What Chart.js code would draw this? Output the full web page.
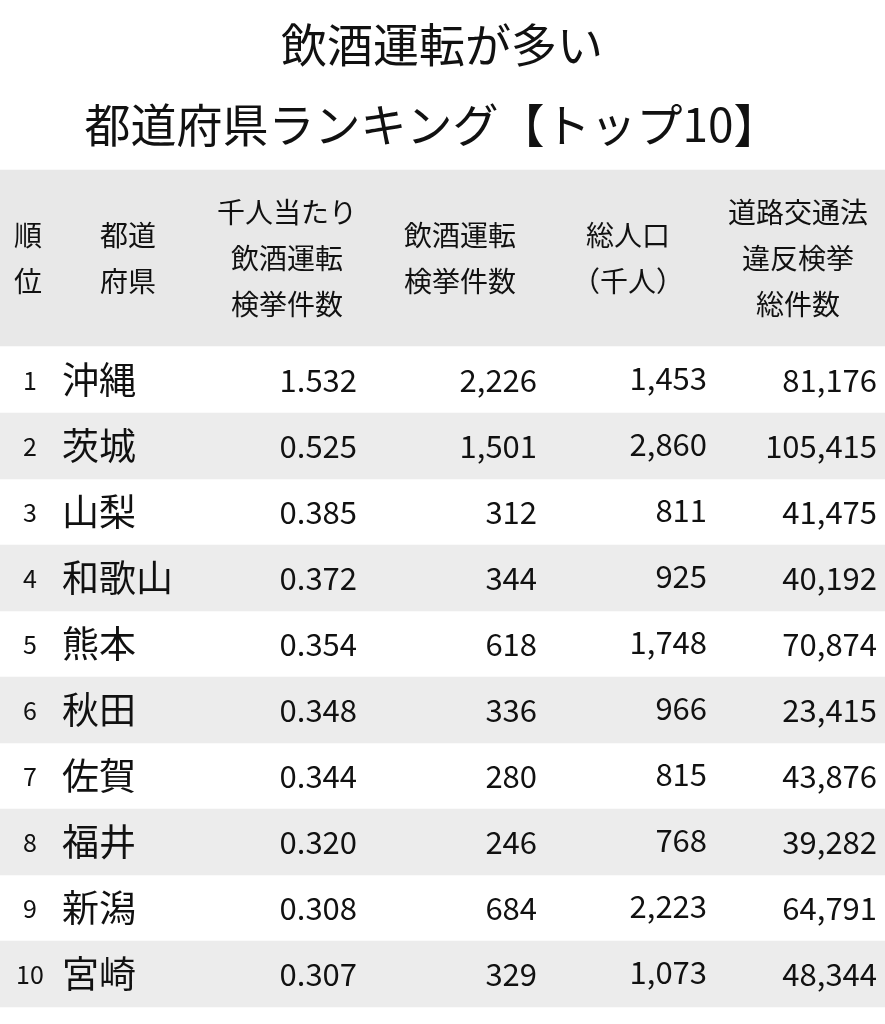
<!DOCTYPE html>
<html><head><meta charset="utf-8">
<script src="https://cdn.jsdelivr.net/npm/chart.js@4.4.1/dist/chart.umd.min.js"></script>
<style>html,body{margin:0;padding:0;background:#fff}#w{width:885px;height:1024px}</style>
</head><body><div id="w"><canvas id="c" width="885" height="1024"></canvas></div>
<script>
const titleLines = ['飲酒運転が多い','都道府県ランキング【トップ10】'];
const headers = [['順','位'],['都道','府県'],['千人当たり','飲酒運転','検挙件数'],['飲酒運転','検挙件数'],['総人口','（千人）'],['道路交通法','違反検挙','総件数']];
const ranks = ['1','2','3','4','5','6','7','8','9','10'];
const prefectures = ['沖縄','茨城','山梨','和歌山','熊本','秋田','佐賀','福井','新潟','宮崎'];
const perThousand = ['1.532','0.525','0.385','0.372','0.354','0.348','0.344','0.320','0.308','0.307'];
const drunkArrests = ['2,226','1,501','312','344','618','336','280','246','684','329'];
const population = ['1,453','2,860','811','925','1,748','966','815','768','2,223','1,073'];
const totalViolations = ['81,176','105,415','41,475','40,192','70,874','23,415','43,876','39,282','64,791','48,344'];

const FONT = '"Noto Sans CJK JP","Noto Sans",sans-serif';
const ROW0 = 380, ROWH = 66, HEADC = 258;
const rowY = i => ROW0 + i*ROWH;
const stripe = ranks.map((r,i)=>i%2===1?{x:[0,885],y:rowY(i)}:null).filter(Boolean);

const tablePlugin = {
  id:'table',
  afterDatasetsDraw(chart){
    const {ctx, scales:{x,y}} = chart;
    ctx.save();
    ctx.fillStyle='#111';
    ctx.textBaseline='middle';
    ctx.textAlign='center';
    ctx.font='46px '+FONT;
    ctx.fillText(titleLines[0], x.getPixelForValue(442), y.getPixelForValue(45));
    ctx.fillText(titleLines[1], x.getPixelForValue(432), y.getPixelForValue(125));
    const hx=[28,128,287,460,628,798];
    ctx.font='28px '+FONT;
    headers.forEach((h,j)=>{
      const n=h.length;
      h.forEach((t,k)=>ctx.fillText(t,x.getPixelForValue(hx[j]),y.getPixelForValue(HEADC+(k-(n-1)/2)*46)));
    });
    ranks.forEach((r,i)=>{
      const yy=y.getPixelForValue(rowY(i));
      ctx.textAlign='center'; ctx.font='25px '+FONT;
      ctx.fillText(r,x.getPixelForValue(30),yy);
      ctx.textAlign='left'; ctx.font='37px '+FONT;
      ctx.fillText(prefectures[i],x.getPixelForValue(62),yy);
      ctx.textAlign='right'; ctx.font='31px '+FONT;
      ctx.fillText(perThousand[i],x.getPixelForValue(357),yy);
      ctx.fillText(drunkArrests[i],x.getPixelForValue(537),yy);
      ctx.fillText(population[i],x.getPixelForValue(707),yy-2);
      ctx.fillText(totalViolations[i],x.getPixelForValue(877),yy);
    });
    ctx.restore();
  }
};

new Chart(document.getElementById('c'),{
  type:'bar',
  data:{datasets:[
    {data:[{x:[0,885],y:HEADC}],backgroundColor:'#e8e8e8',barThickness:176,grouped:false},
    {data:stripe,backgroundColor:'#ececec',barThickness:ROWH,grouped:false}
  ]},
  options:{
    indexAxis:'y',responsive:false,animation:false,devicePixelRatio:1,
    layout:{padding:0},
    plugins:{legend:{display:false},tooltip:{enabled:false}},
    scales:{
      x:{type:'linear',min:0,max:885,display:false,offset:false},
      y:{type:'linear',min:0,max:1024,reverse:true,display:false,offset:false}
    }
  },
  plugins:[tablePlugin]
});
</script></body></html>
